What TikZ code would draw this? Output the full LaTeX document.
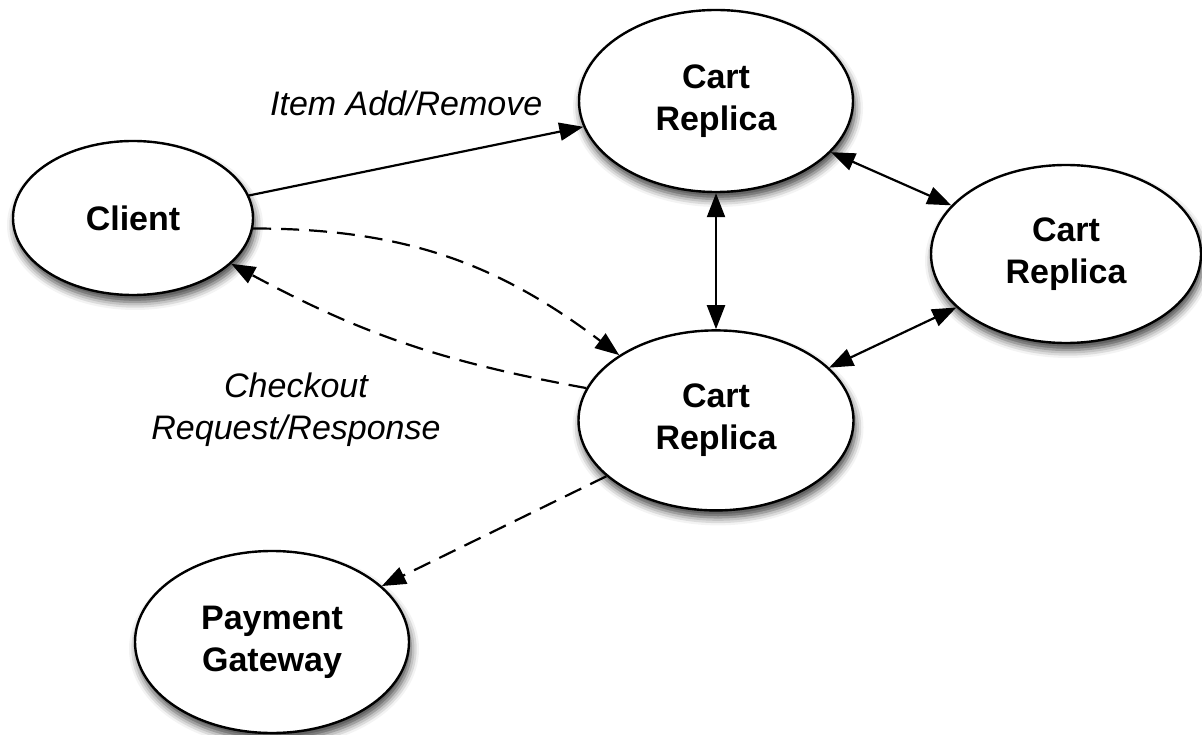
\documentclass[tikz,border=0pt]{standalone}
\usepackage{fontspec}
\setmainfont{Liberation Sans}
\usetikzlibrary{shapes.geometric, arrows.meta, positioning, shadows.blur}

\begin{document}
\begin{tikzpicture}[
        x=0.5pt, y=0.5pt,
        node distance=68pt,
        bubble/.style={ellipse, draw, line width=1.2pt, fill=white, align=center, inner sep=0pt, font=\bfseries\fontsize{17}{21}\selectfont, blur shadow={shadow xshift=1pt, shadow yshift=-3.5pt, shadow blur radius=4pt, shadow opacity=75}},
        note/.style={align=center, inner sep=0pt, font=\itshape\fontsize{17}{21}\selectfont},
        link/.style={-{Triangle[length=12pt,width=9pt]}, line width=1.1pt},
        twoway/.style={{Triangle[length=12pt,width=9pt]}-{Triangle[length=12pt,width=9pt]}, line width=1.1pt},
        call/.style={link, dash pattern=on 9pt off 5pt}
    ]
        \useasboundingbox (0,0) rectangle (1202,734);

        \node[bubble, minimum width=120pt, minimum height=77pt] (client) at (133,516) {Client};
        \node[bubble, minimum width=137pt, minimum height=91pt] (cart1) at (716,633) {Cart\\Replica};
        \node[bubble, minimum width=137.5pt, minimum height=90pt, below=of cart1] (cart2) {Cart\\Replica};
        \node[bubble, minimum width=135pt, minimum height=89pt] (cart3) at (1066,480) {Cart\\Replica};
        \node[bubble, minimum width=137pt, minimum height=91pt] (payment) at (272,92) {Payment\\Gateway};

        \draw[link] (client.11) -- node[note, pos=0.47, yshift=30pt] (itemnote) {Item Add/Remove} (cart1.191);
        \draw[call] (client.-5) to[out=0, in=143] (cart2.146);
        \draw[call] (cart2.166) to[bend left=9] (client.-25);
        \node[note] (checkout) at (296,324) {Checkout\\Request/Response};

        \draw[twoway] (cart1) -- (cart2);
        \draw[twoway] (cart1.-24) -- (cart3.157);
        \draw[twoway] (cart2.25) -- (cart3.206);
        \draw[call] (cart2.207) -- (payment.27);
    \end{tikzpicture}
\end{document}
